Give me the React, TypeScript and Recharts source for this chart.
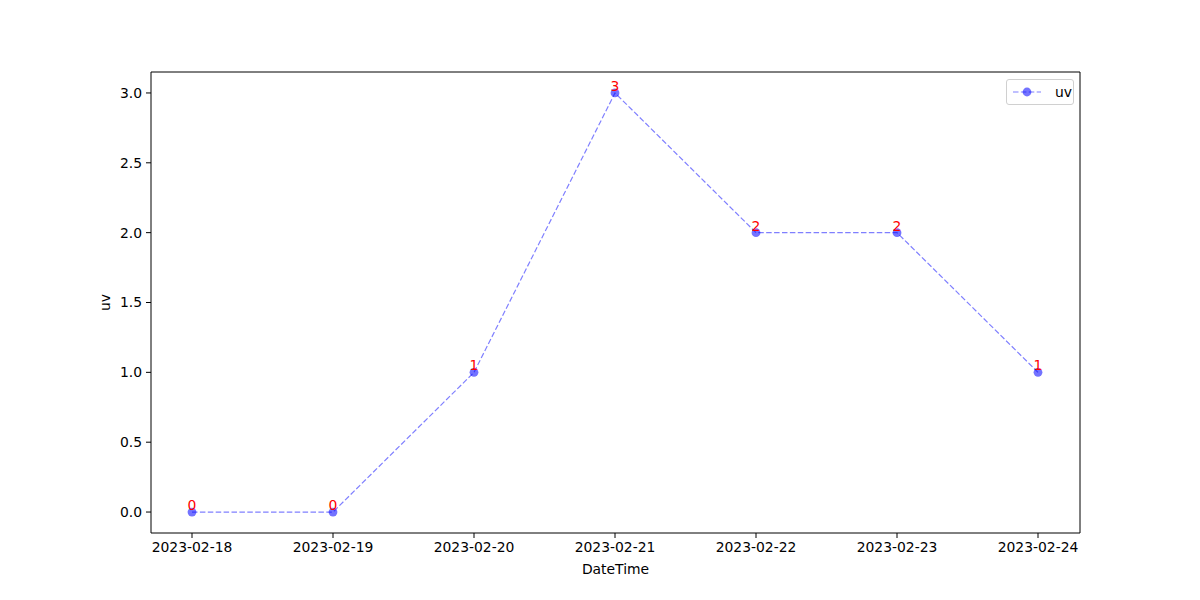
import React from "react";
import { LineChart, Line, XAxis, YAxis } from "recharts";

const dates = ["2023-02-18", "2023-02-19", "2023-02-20", "2023-02-21", "2023-02-22", "2023-02-23", "2023-02-24"];
const uvValues = [0, 0, 1, 3, 2, 2, 1];
const yTicks = [0, 0.5, 1, 1.5, 2, 2.5, 3];

const data = dates.map((d, i) => ({ DateTime: d, uv: uvValues[i] }));

const FONT = "'DejaVu Sans', sans-serif";
const FS = 13.9;
const DASH = "5.5 2.4";

const PointLabel = (props: any) => {
  const { x, y, value } = props;
  return (
    <text x={x} y={y - 2} textAnchor="middle" fill="#ff0000" fontSize={FS} fontFamily={FONT}>
      {value}
    </text>
  );
};

const LegendBox = () => (
  <div
    style={{
      position: "absolute",
      left: 1006,
      top: 79,
      border: "1px solid #d0d0d0",
      borderRadius: 3,
      background: "#fff",
      width: 68,
      height: 26,
      boxSizing: "border-box",
      display: "flex",
      alignItems: "center",
      fontFamily: FONT,
      fontSize: FS,
      color: "#000",
    }}
  >
    <svg width={32} height={20} style={{ marginLeft: 4 }}>
      <line x1={2} y1={10} x2={30} y2={10} stroke="#0000ff" strokeOpacity={0.5} strokeWidth={1.2} strokeDasharray={DASH} />
      <circle cx={16} cy={10} r={4.4} fill="#0000ff" fillOpacity={0.55} />
    </svg>
    <span style={{ marginLeft: 12 }}>uv</span>
  </div>
);

export default function App() {
  return (
    <div style={{ position: "absolute", left: 0, top: 0, width: 1200, height: 600, background: "#fff" }}>
      <LineChart width={1200} height={600} data={data} margin={{ top: 71, right: 119, left: 0, bottom: 0 }}>
        <XAxis
          dataKey="DateTime"
          type="category"
          padding={{ left: 41, right: 42 }}
          height={67}
          stroke="#000"
          tickSize={5}
          tickMargin={4}
          tick={{ fill: "#000", fontSize: FS, fontFamily: FONT }}
          tickLine={{ stroke: "#000" }}
          axisLine={{ stroke: "#000" }}
          interval={0}
          label={{ value: "DateTime", position: "insideBottom", offset: 26, fill: "#000", fontSize: FS, fontFamily: FONT }}
        />
        <XAxis
          xAxisId="top"
          orientation="top"
          dataKey="DateTime"
          height={1}
          tick={false}
          tickLine={false}
          axisLine={{ stroke: "#000" }}
        />
        <YAxis
          domain={[-0.15, 3.15]}
          ticks={yTicks}
          width={151}
          stroke="#000"
          tickSize={5}
          tickMargin={4}
          tickFormatter={(v: number) => v.toFixed(1)}
          tick={{ fill: "#000", fontSize: FS, fontFamily: FONT }}
          tickLine={{ stroke: "#000" }}
          axisLine={{ stroke: "#000" }}
          allowDataOverflow
          label={(p: any) => {
            const vb = p.viewBox;
            const cx = vb.x + 105;
            const cy = vb.y + vb.height / 2;
            return (
              <text
                x={cx}
                y={cy}
                transform={`rotate(-90, ${cx}, ${cy})`}
                textAnchor="middle"
                dominantBaseline="central"
                fill="#000"
                fontSize={FS}
                fontFamily={FONT}
              >
                uv
              </text>
            );
          }}
        />
        <YAxis
          yAxisId="right"
          orientation="right"
          width={1}
          tick={false}
          tickLine={false}
          axisLine={{ stroke: "#000" }}
        />
        <Line
          dataKey="uv"
          stroke="#0000ff"
          strokeOpacity={0.5}
          strokeWidth={1.2}
          strokeDasharray={DASH}
          isAnimationActive={false}
          dot={{ r: 4.4, fill: "#0000ff", fillOpacity: 0.55, stroke: "none" }}
          activeDot={false}
          label={<PointLabel />}
        />
      </LineChart>
      <LegendBox />
    </div>
  );
}
